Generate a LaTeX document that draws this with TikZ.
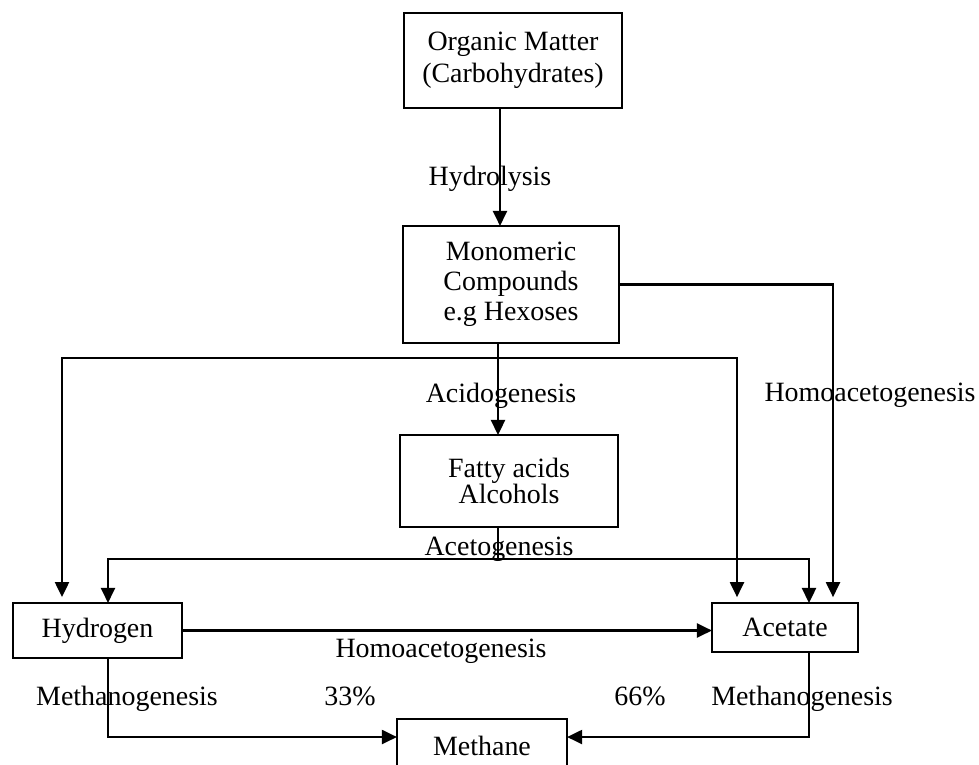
\documentclass[tikz,border=0pt]{standalone}
\usepackage{fontspec}
\setmainfont{Liberation Serif}
\usetikzlibrary{arrows.meta}

\begin{document}
\begin{tikzpicture}[x=0.358pt,y=-0.358pt,
        box/.style={draw,line width=0.95pt,inner sep=0pt,outer sep=0pt,align=center},
        flow/.style={line width=0.85pt},
        gap/.style={shorten >=2.1pt},
        >={Triangle[length=5.4pt,width=5pt]}]

        \useasboundingbox (0,0) rectangle (979,764);

        \node[box,minimum width=78pt,minimum height=34pt,font=\fontsize{10}{11.5}\selectfont] (OM) at (513,60.5) {Organic Matter\\(Carbohydrates)};
        \node[box,minimum width=77.3pt,minimum height=41.9pt,font=\fontsize{10}{10.7}\selectfont] (MC) at (511,284.5) {Monomeric\\Compounds\\e.g Hexoses};
        \node[box,minimum width=78pt,minimum height=32.9pt,font=\fontsize{10}{9.2}\selectfont] (FA) at (509,481) {Fatty acids\\Alcohols};
        \node[box,minimum width=60.5pt,minimum height=19.7pt,font=\fontsize{10}{12}\selectfont] (H) at (97.5,630.5) {Hydrogen};
        \node[box,minimum width=52.3pt,minimum height=17.5pt,font=\fontsize{10}{12}\selectfont] (A) at (785,627.5) {Acetate};
        \node[box,minimum width=60.9pt,minimum height=19pt,font=\fontsize{10}{12}\selectfont] (M) at (482,745.5) {Methane};

        \coordinate (s1) at (500,0);
        \coordinate (s2) at (498,0);
        \coordinate (hl) at (62,0);
        \coordinate (hr) at (108,0);
        \coordinate (al) at (737,0);
        \coordinate (am) at (809,0);
        \coordinate (ar) at (833,0);
        \coordinate (rm) at (0,737);
        \coordinate (j1) at (498,358);
        \coordinate (j2) at (498,559);

        \draw[flow,->] (OM.south -| s1) -- (MC.north -| s1);
        \draw[flow] (MC.south -| s2) -- (j1);
        \draw[flow,->] (j1) -- (FA.north -| s2);
        \draw[flow,->,gap] (j1) -| (H.north -| hl);
        \draw[flow,->,gap] (j1) -| (A.north -| al);
        \draw[flow,->,gap] (MC.east) -| (A.north -| ar);
        \draw[flow] (FA.south -| s2) -- (j2);
        \draw[flow,->] (j2) -| (H.north -| hr);
        \draw[flow,->] (j2) -| (A.north -| am);
        \draw[flow,->] (H.east) -- (H.east -| A.west);
        \draw[flow,->] (H.south -| hr) |- (M.west |- rm);
        \draw[flow,->] (A.south -| am) |- (M.east |- rm);

        \node[anchor=base] (hyd) at (490,185) {Hydrolysis};
        \node[anchor=base] (acd) at (501,402) {Acidogenesis};
        \node[anchor=base] (hom1) at (870,401) {Homoacetogenesis};
        \node[anchor=base] (act) at (499,555) {Acetogenesis};
        \node[anchor=base] (hom2) at (441,657) {Homoacetogenesis};
        \node[anchor=base] (met1) at (127,705) {Methanogenesis};
        \node[anchor=base] (p33) at (350,705) {33\%};
        \node[anchor=base] (p66) at (640,705) {66\%};
        \node[anchor=base] (met2) at (802,705) {Methanogenesis};

    \end{tikzpicture}
\end{document}
